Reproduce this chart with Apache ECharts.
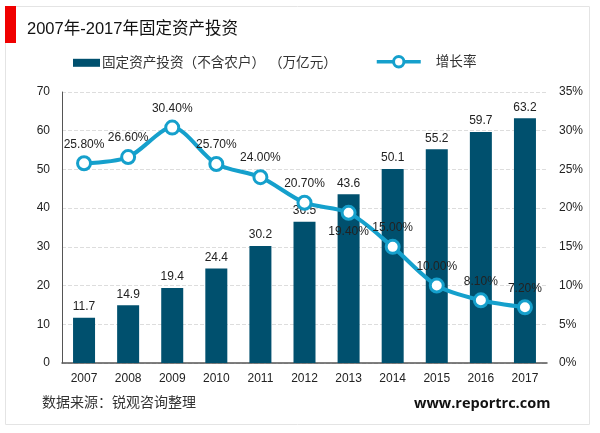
<!DOCTYPE html>
<html>
<head>
<meta charset="utf-8">
<style>html,body{margin:0;padding:0;background:#fff}#main{width:600px;height:433px}</style>
<script src="https://cdn.jsdelivr.net/npm/echarts@6/dist/echarts.min.js"></script>
</head>
<body>
<div id="main"></div>
<script>
var years = ['2007','2008','2009','2010','2011','2012','2013','2014','2015','2016','2017'];
var investment = [11.7,14.9,19.4,24.4,30.2,36.5,43.6,50.1,55.2,59.7,63.2];
var growth = [25.8,26.6,30.4,25.7,24.0,20.7,19.4,15.0,10.0,8.1,7.2];

var font = '"Liberation Sans","Noto Sans CJK SC",sans-serif';
var barName = '固定资产投资（不含农户） （万亿元）';
var lineName = '增长率';
var lineColor = '#15a0cc';
var myChart = echarts.init(document.getElementById('main'));

// the 2013 label sits under its point
var growthData = growth.map(function (v, i) {
    if (years[i] === '2013') {
        return {value: v, label: {position: 'bottom', distance: 5}};
    }
    return v;
});

var option = {
    animation: false,
    textStyle: {fontFamily: font},
    title: [
        {text: '2007年-2017年固定资产投资', left: 22, top: 16, textStyle: {fontSize: 16.5, fontWeight: 'normal', color: '#111', fontFamily: font}},
        {text: '数据来源：锐观咨询整理', left: 37, top: 391, textStyle: {fontSize: 14, fontWeight: 'normal', color: '#333', fontFamily: font}},
        {text: 'www.reportrc.com', left: 409, top: 391, textStyle: {fontSize: 14.5, fontWeight: 'bold', color: '#111', fontFamily: '"Open Sans",sans-serif'}}
    ],
    graphic: [
        {type: 'rect', z: -1, shape: {x: 5.5, y: 6.5, width: 584, height: 418}, style: {fill: 'none', stroke: '#e4e4e4', lineWidth: 1}},
        {type: 'rect', shape: {x: 5, y: 6, width: 11, height: 37}, style: {fill: '#f00000'}}
    ],
    legend: [
        {top: 51, left: 68, itemWidth: 27, itemHeight: 8, icon: 'rect',
         textStyle: {fontSize: 13.6, color: '#333', fontFamily: font, padding: [0, 0, 0, -3]},
         data: [barName]},
        {top: 50, left: 370, itemWidth: 44, itemHeight: 13,
         textStyle: {fontSize: 13.6, color: '#333', fontFamily: font, padding: [0, 0, 0, 10]},
         data: [{name: lineName, lineStyle: {width: 3.5}, itemStyle: {borderWidth: 3}}]}
    ],
    grid: {left: 62, right: 53, top: 92, bottom: 70},
    xAxis: {
        type: 'category', data: years,
        axisLine: {lineStyle: {color: '#555', width: 1.5}},
        axisTick: {show: false},
        axisLabel: {color: '#222', fontSize: 12, margin: 10}
    },
    yAxis: [
        {type: 'value', min: 0, max: 70, interval: 10,
         axisLine: {show: true, lineStyle: {color: '#555', width: 1}},
         axisTick: {show: false},
         axisLabel: {color: '#222', fontSize: 12, margin: 12},
         splitLine: {lineStyle: {color: '#ddd', type: 'dashed'}}},
        {type: 'value', min: 0, max: 35, interval: 5,
         axisLine: {show: false}, axisTick: {show: false},
         axisLabel: {color: '#222', fontSize: 12, margin: 12, formatter: '{value}%'},
         splitLine: {show: false}}
    ],
    series: [
        {name: barName, type: 'bar', data: investment, barWidth: 22,
         itemStyle: {color: '#00506e'},
         label: {show: true, position: 'top', distance: 5, color: '#222', fontSize: 12}},
        {name: lineName, type: 'line', yAxisIndex: 1, data: growthData, smooth: 0.3, z: 5,
         symbol: 'circle', symbolSize: 13, showAllSymbol: true,
         lineStyle: {color: lineColor, width: 4},
         itemStyle: {color: '#fff', borderColor: lineColor, borderWidth: 3},
         label: {show: true, position: 'top', distance: 5, color: '#222', fontSize: 12,
            formatter: function (p) { return p.value.toFixed(2) + '%'; }}}
    ]
};
myChart.setOption(option);
</script>
</body>
</html>
